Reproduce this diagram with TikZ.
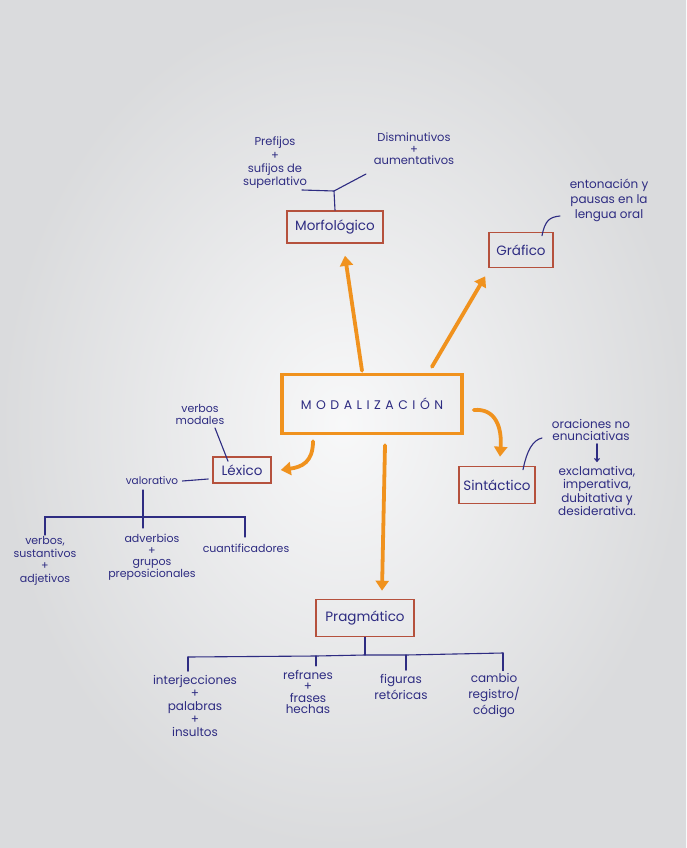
\documentclass[tikz,border=0pt]{standalone}
\usepackage{fontspec}
\setmainfont{Poppins}
\usetikzlibrary{arrows.meta}
\definecolor{paper}{HTML}{EDEEF0}
\definecolor{ink}{HTML}{2E2C82}
\definecolor{boxred}{HTML}{B5513D}
\definecolor{orng}{HTML}{F0921E}
\begin{document}
\begin{tikzpicture}[x=1pt,y=-1pt,
  box/.style={draw=boxred, line width=1.6pt, text=ink, inner sep=0pt, font=\fontsize{13.5}{15}\selectfont},
  hw/.style={text=ink, inner sep=0pt, font=\fontsize{12}{13}\selectfont, align=center},
  inkline/.style={draw=ink, line width=1.1pt, line cap=round},
  arr/.style={draw=orng, line width=3.8pt, line cap=round, -{Triangle[length=10pt,width=13pt]}},
]
\shade[inner color=paper!40!white, outer color=paper!92!black] (0,0) rectangle (686,848);
\useasboundingbox (0,0) rectangle (686,848);

% central node
\node[box, draw=orng, line width=3.5pt, minimum width=180pt, minimum height=59pt,
      font=\fontsize{12.5}{14}\selectfont] (mod) at (372,404)
      {\addfontfeatures{LetterSpace=36}MODALIZACIÓN};

% category boxes
\node[box, minimum width=96pt, minimum height=32pt] (morf) at (335,227) {Morfológico};
\node[box, minimum width=64pt, minimum height=35pt] (gra) at (521,250) {Gráfico};
\node[box, minimum width=58pt, minimum height=26pt] (lex) at (242,470) {Léxico};
\node[box, minimum width=76pt, minimum height=37pt] (sin) at (497,485) {Sintáctico};
\node[box, minimum width=98pt, minimum height=37pt] (pra) at (365,618) {Pragmático};

% orange arrows
\draw[arr] ([xshift=-10pt,yshift=2pt]mod.north) -- ([xshift=10pt,yshift=-12pt]morf.south);
\draw[arr] ([xshift=60pt,yshift=6pt]mod.north) -- ([xshift=-3pt,yshift=-8pt]gra.south west);
\draw[arr] ([xshift=-59pt,yshift=-6pt]mod.south) .. controls (313,462) and (302,467) .. ([xshift=9pt]lex.east);
\draw[arr] ([xshift=10pt,yshift=-6pt]mod.east) .. controls (496,408) and (502,428) .. ([xshift=3pt,yshift=9pt]sin.north);
\draw[arr] ([xshift=13pt,yshift=-10pt]mod.south) -- ([xshift=17pt,yshift=8pt]pra.north);

% Morfológico branch
\node[hw, font=\fontsize{11.5}{13.3}\selectfont] (pref) at (275,163) {Prefijos\\+\\sufijos de\\superlativo};
\node[hw, font=\fontsize{11.5}{11.5}\selectfont] (dism) at (414,149) {Disminutivos\\+\\aumentativos};
\coordinate (mj) at (334,191);
\coordinate (ml) at (302,190);
\coordinate (mr) at (366,174);
\draw[inkline] (morf.north) -- (mj);
\draw[inkline] (ml) -- (mj) -- (mr);

% Gráfico branch
\node[hw, font=\fontsize{12}{15}\selectfont] (ento) at (609,200) {entonación y\\pausas en la\\lengua oral};
\coordinate (ge) at (560,216);
\draw[inkline] ([xshift=21pt,yshift=-4pt]gra.north) .. controls (545,220) and (550,217) .. (ge);

% Léxico branch
\node[hw, font=\fontsize{11}{12}\selectfont] (vmod) at (200,414) {verbos\\modales};
\coordinate (lm) at (215,428);
\draw[inkline] ([xshift=-14pt,yshift=-5pt]lex.north) -- (lm);
\node[hw, font=\fontsize{10.5}{12}\selectfont] (val) at (152,481) {valorativo};
\draw[inkline] ([xshift=-4pt,yshift=-9pt]lex.west) -- ([xshift=4pt]val.east);
\coordinate (vt) at (143,490);
\coordinate (vm) at (143,517);
\coordinate (vl) at (45,517);
\coordinate (vr) at (245,517);
\draw[inkline] (vt) -- ([yshift=-11pt]vm);
\draw[inkline] ([yshift=-18pt]vl) -- (vl) -- (vr) -- ([yshift=-20pt]vr);
\node[hw, font=\fontsize{11}{12.7}\selectfont] (vsa) at (45,561) {verbos,\\sustantivos\\+\\adjetivos};
\node[hw, font=\fontsize{11}{11.5}\selectfont] (adv) at (152,557) {adverbios\\+\\grupos\\preposicionales};
\node[hw, font=\fontsize{11}{12}\selectfont] (cuan) at (246,548) {cuantificadores};

% Sintáctico branch
\node[hw, font=\fontsize{12}{12}\selectfont] (orac) at (591,430) {oraciones no\\enunciativas};
\node[hw, font=\fontsize{12}{13.3}\selectfont] (excl) at (597,491) {exclamativa,\\imperativa,\\dubitativa y\\desiderativa.};
\draw[inkline, -{Straight Barb[length=3pt,width=5pt]}] ([xshift=6pt,yshift=-3pt]orac.south) -- ([yshift=4pt]excl.north);
\coordinate (se) at (542,438);
\draw[inkline] ([xshift=26pt,yshift=-4pt]sin.north) .. controls (527,450) and (533,440) .. (se);

% Pragmático branch
\coordinate (pj) at (365,655);
\coordinate (p1) at (188,657);
\coordinate (p2) at (316,656);
\coordinate (p3) at (406,655);
\coordinate (p4) at (503,653);
\draw[inkline] (pra.south) -- (pj);
\draw[inkline] (p1) -- (p2) -- (pj) -- (p3) -- (p4);
\node[hw, font=\fontsize{12}{13}\selectfont] (interj) at (195,706) {interjecciones\\+\\palabras\\+\\insultos};
\node[hw, font=\fontsize{12}{11.5}\selectfont] (refr) at (308,692) {refranes\\+\\frases\\hechas};
\node[hw, font=\fontsize{12}{16}\selectfont] (fig) at (401,687) {figuras\\retóricas};
\node[hw, font=\fontsize{12}{16}\selectfont] (camb) at (494,696) {cambio\\registro/\\código};
\draw[inkline] (p1) -- ([yshift=4pt]p1 |- interj.north);
\draw[inkline] (p2) -- ([yshift=4pt]p2 |- refr.north);
\draw[inkline] (p3) -- ([yshift=4pt]p3 |- fig.north);
\draw[inkline] (p4) -- ([yshift=3pt]p4 |- camb.north);
\end{tikzpicture}
\end{document}
